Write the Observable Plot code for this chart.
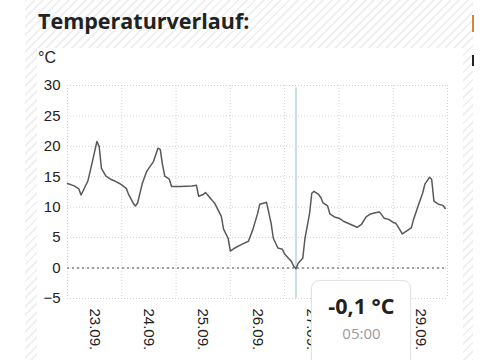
<!DOCTYPE html>
<html><head><meta charset="utf-8">
<script src="https://cdn.jsdelivr.net/npm/d3@7"></script>
<script src="https://cdn.jsdelivr.net/npm/@observablehq/plot@0.6"></script>
<style>
html,body{margin:0;padding:0;background:#fff;width:500px;height:360px;overflow:hidden}
#wrap{position:relative;width:500px;height:360px}
.hatch{position:absolute;left:25px;top:0;width:448px;height:360px;background:repeating-linear-gradient(135deg,#f0f0f0 0 2px,#fff 2px 6px)}
.card{position:absolute;left:37px;top:48px;width:426px;height:312px;background:#fff}
.title{position:absolute;left:38px;top:6px;font:700 21.5px "Open Sans",sans-serif;color:#222;white-space:nowrap}
.unit{position:absolute;left:38px;top:49px;font:16px "Liberation Sans",Arial,sans-serif;color:#222}
.mk1{position:absolute;left:472px;top:15px;width:2px;height:17px;background:#d9823b}
.mk2{position:absolute;left:472px;top:55px;width:2px;height:11px;background:#222}
#chart{position:absolute;left:0;top:0}
.tip{position:absolute;top:280px;width:98px;height:100px;background:#fff;border:1px solid #e3e3e3;border-radius:8px;box-shadow:0 1px 3px rgba(0,0,0,0.06);text-align:center;font-family:"Open Sans",sans-serif}
.tip .v{font-weight:700;font-size:21.5px;color:#222;margin-top:11px;line-height:27px}
.tip .t{font-size:15px;color:#9a9a9a;margin-top:4px;line-height:20px}
</style></head>
<body><div id="wrap">
<div class="hatch"></div><div class="card"></div>
<div class="title">Temperaturverlauf:</div>
<div class="mk1"></div><div class="mk2"></div>
<div class="unit">°C</div>
<div id="chart"></div>
</div>
<script>
const times = [
"2023-09-23T00:00","2023-09-23T03:00","2023-09-23T05:00","2023-09-23T06:00","2023-09-23T09:00","2023-09-23T11:00","2023-09-23T13:00","2023-09-23T14:00","2023-09-23T15:00","2023-09-23T17:00","2023-09-23T19:00","2023-09-23T21:00","2023-09-23T23:00",
"2023-09-24T02:00","2023-09-24T03:00","2023-09-24T05:00","2023-09-24T06:00","2023-09-24T07:00","2023-09-24T09:00","2023-09-24T11:00","2023-09-24T14:00","2023-09-24T16:00","2023-09-24T17:00","2023-09-24T18:00","2023-09-24T19:00","2023-09-24T21:00","2023-09-24T22:00",
"2023-09-25T02:00","2023-09-25T07:00","2023-09-25T09:00","2023-09-25T10:00","2023-09-25T12:00","2023-09-25T13:00","2023-09-25T14:00","2023-09-25T16:00","2023-09-25T17:00","2023-09-25T20:00","2023-09-25T21:00","2023-09-25T23:00",
"2023-09-26T00:00","2023-09-26T02:00","2023-09-26T05:00","2023-09-26T08:00","2023-09-26T10:00","2023-09-26T12:00","2023-09-26T13:00","2023-09-26T15:00","2023-09-26T16:00","2023-09-26T18:00","2023-09-26T19:00","2023-09-26T21:00","2023-09-26T23:00",
"2023-09-27T00:00","2023-09-27T02:00","2023-09-27T03:00","2023-09-27T04:00","2023-09-27T05:00","2023-09-27T06:00","2023-09-27T08:00","2023-09-27T09:00","2023-09-27T11:00","2023-09-27T12:00","2023-09-27T13:00","2023-09-27T15:00","2023-09-27T16:00","2023-09-27T17:00","2023-09-27T19:00","2023-09-27T20:00","2023-09-27T22:00",
"2023-09-28T00:00","2023-09-28T02:00","2023-09-28T05:00","2023-09-28T08:00","2023-09-28T10:00","2023-09-28T12:00","2023-09-28T14:00","2023-09-28T16:00","2023-09-28T18:00","2023-09-28T20:00","2023-09-28T22:00",
"2023-09-29T00:00","2023-09-29T01:00","2023-09-29T02:00","2023-09-29T04:00","2023-09-29T06:00","2023-09-29T08:00","2023-09-29T09:00","2023-09-29T11:00","2023-09-29T13:00","2023-09-29T14:00","2023-09-29T16:00","2023-09-29T17:00","2023-09-29T18:00","2023-09-29T20:00","2023-09-29T22:00","2023-09-29T23:00"
];
const temps = [
13.9,13.5,13.0,12.0,14.3,17.5,20.8,20.0,16.4,15.1,14.6,14.3,13.9,
13.1,12.1,10.7,10.2,10.7,13.8,15.9,17.5,19.7,19.5,17.0,15.1,14.6,13.4,
13.4,13.5,13.6,11.8,12.1,12.4,12.0,11.1,10.7,8.5,6.4,4.9,
2.8,3.3,3.9,4.4,6.4,8.9,10.5,10.7,10.8,7.4,4.9,3.3,3.1,
2.3,1.5,1.1,0.3,-0.1,0.8,1.6,4.9,8.9,12.3,12.6,12.1,11.6,10.7,10.2,8.9,8.4,
8.2,7.7,7.2,6.7,7.2,8.4,8.9,9.1,9.2,8.2,8.0,
7.5,7.4,6.9,5.6,6.1,6.6,8.0,10.2,12.3,13.8,14.9,14.6,11.0,10.5,10.3,9.8
];
const dayStarts = ["2023-09-23","2023-09-24","2023-09-25","2023-09-26","2023-09-27","2023-09-28","2023-09-29","2023-09-30"];
const dayLabels = ["2023-09-23T12:00","2023-09-24T12:00","2023-09-25T12:00","2023-09-26T12:00","2023-09-27T12:00","2023-09-28T12:00","2023-09-29T12:00"];
const yTicks = [-5,0,5,10,15,20,25,30];
const cursorTime = "2023-09-27T05:00";
const cursorValue = "-0,1 °C";
const cursorLabel = "05:00";

const pt = d3.utcParse("%Y-%m-%dT%H:%M");
const pd = d3.utcParse("%Y-%m-%d");
const data = times.map((t, i) => ({t: pt(t), v: temps[i]}));
const bounds = dayStarts.map(pd);
const labelTicks = dayLabels.map(pt);
const grid = {stroke: "#d2d2d2", strokeOpacity: 1, strokeWidth: 1, strokeDasharray: "1,2"};

const plot = Plot.plot({
  width: 500, height: 360,
  marginLeft: 67, marginRight: 53, marginTop: 85, marginBottom: 62,
  style: {background: "transparent", fontFamily: "'Liberation Sans', Arial, sans-serif", fontSize: "15px", color: "#222"},
  x: {type: "utc", domain: [bounds[0], bounds[bounds.length - 1]], ticks: labelTicks, tickFormat: d3.utcFormat("%d.%m."), tickRotate: 90, tickSize: 0, tickPadding: 10, label: null},
  y: {domain: [-5, 30], ticks: yTicks, tickSize: 0, tickPadding: 7, label: null},
  marks: [
    Plot.ruleX(bounds, grid),
    Plot.ruleY(yTicks, grid),
    Plot.ruleY([0], {stroke: "#a0a0a0", strokeWidth: 2, strokeDasharray: "2,3"}),
    Plot.ruleX([pt(cursorTime)], {y1: 29.6, y2: -5, stroke: "#c6dfe1", strokeWidth: 2}),
    Plot.lineY(data, {x: "t", y: "v", stroke: "#595959", strokeWidth: 1.5})
  ]
});
document.getElementById("chart").appendChild(plot);
const cx = plot.scale("x").apply(pt(cursorTime));
const tip = document.createElement("div");
tip.className = "tip";
tip.style.left = (cx + 16) + "px";
tip.innerHTML = `<div class="v">${cursorValue}</div><div class="t">${cursorLabel}</div>`;
document.getElementById("wrap").appendChild(tip);
</script>
</body></html>
